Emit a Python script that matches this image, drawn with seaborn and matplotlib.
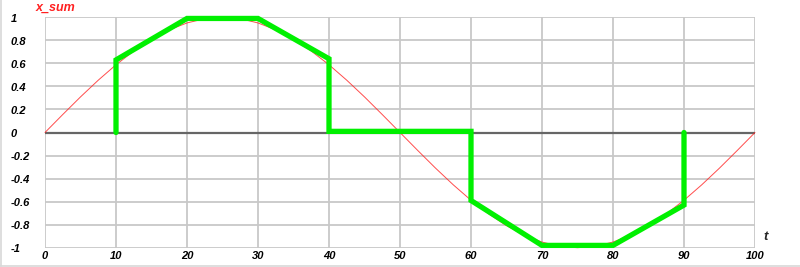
import matplotlib
matplotlib.use("Agg")
import matplotlib.pyplot as plt
from matplotlib.lines import Line2D
import seaborn as sns
import pandas as pd

# Red reference curve
t_ref = [0, 2.5, 5, 7.5, 10, 12.5, 15, 17.5, 20, 22.5, 25, 27.5, 30, 32.5, 35, 37.5,
         40, 42.5, 45, 47.5, 50, 52.5, 55, 57.5, 60, 62.5, 65, 67.5, 70, 72.5, 75,
         77.5, 80, 82.5, 85, 87.5, 90, 92.5, 95, 97.5, 100]
x_ref = [0.0, 0.156, 0.309, 0.454, 0.588, 0.707, 0.809, 0.891, 0.951, 0.988, 1.0,
         0.988, 0.951, 0.891, 0.809, 0.707, 0.588, 0.454, 0.309, 0.156, 0.0,
         -0.156, -0.309, -0.454, -0.588, -0.707, -0.809, -0.891, -0.951, -0.988, -1.0,
         -0.988, -0.951, -0.891, -0.809, -0.707, -0.588, -0.454, -0.309, -0.156, 0.0]

# Green x_sum path
t_sum = [10, 10, 20, 30, 40, 40, 60, 60, 70, 80, 90, 90]
x_sum = [0.0, 0.63, 0.99, 0.99, 0.64, 0.01, 0.01, -0.59, -0.98, -0.98, -0.63, 0.0]

x_ticks = [0, 10, 20, 30, 40, 50, 60, 70, 80, 90, 100]
y_ticks = [-1, -0.8, -0.6, -0.4, -0.2, 0, 0.2, 0.4, 0.6, 0.8, 1]
y_tick_labels = ["-1", "-0.8", "-0.6", "-0.4", "-0.2", "0", "0.2", "0.4", "0.6", "0.8", "1"]

sns.set_theme(style="white")
plt.rcParams['font.family'] = ['Liberation Sans', 'DejaVu Sans']

fig = plt.figure(figsize=(8, 2.67), dpi=100)
ax = fig.add_axes([45 / 800, 19.3 / 267, 710 / 800, 230.4 / 267])

df_ref = pd.DataFrame({"t": t_ref, "x": x_ref})
df_sum = pd.DataFrame({"t": t_sum, "x": x_sum})

ax.set_xlim(0, 100)
ax.set_ylim(-1, 1)
for xv in x_ticks:
    ax.axvline(xv, color="#c8c8c8", lw=1.3, zorder=1)
for yv in y_ticks:
    ax.axhline(yv, color="#c8c8c8", lw=1.3, zorder=1)
ax.axhline(0, color="#666666", lw=1.6, zorder=2)

sns.lineplot(data=df_ref, x="t", y="x", ax=ax, color="#ff2020", lw=0.7, alpha=0.8,
             sort=False, estimator=None, zorder=3, clip_on=False)
sns.lineplot(data=df_sum, x="t", y="x", ax=ax, color="#00f000", lw=3.8,
             sort=False, estimator=None, zorder=4, solid_joinstyle="miter", clip_on=False)

for s in ax.spines.values():
    s.set_visible(False)
ax.set_xticks([])
ax.set_yticks([])
ax.set_xlabel("")
ax.set_ylabel("")

fp = dict(fontsize=8, fontweight="bold", fontstyle="italic", color="black")
for xv in x_ticks:
    ax.annotate(str(xv), xy=(xv, -1), xycoords="data", xytext=(0, -6),
                textcoords="offset points", ha="center", va="center", **fp)
for yv, lab in zip(y_ticks, y_tick_labels):
    ax.annotate(lab, xy=(0, yv), xycoords="data", xytext=(-24.5, -1),
                textcoords="offset points", ha="left", va="center", **fp)

ax.annotate("t", xy=(100, -1), xycoords="data", xytext=(8, 8), textcoords="offset points",
            ha="center", va="center", fontsize=9.5, fontweight="bold", fontstyle="italic")
fig.text(36 / 800, 1 - 8 / 267, "x_sum", ha="left", va="center", color="#ff2020",
         fontsize=9, fontweight="bold", fontstyle="italic")

# light frame on left and bottom of image
fig.add_artist(Line2D([0.8 / 800, 0.8 / 800], [1.5 / 267, 1], transform=fig.transFigure,
                      color="#d8d8d8", lw=1.2))
fig.add_artist(Line2D([0, 1], [1.5 / 267, 1.5 / 267], transform=fig.transFigure,
                      color="#d8d8d8", lw=1.2))

fig.savefig("out.png", dpi=100, facecolor="white")
